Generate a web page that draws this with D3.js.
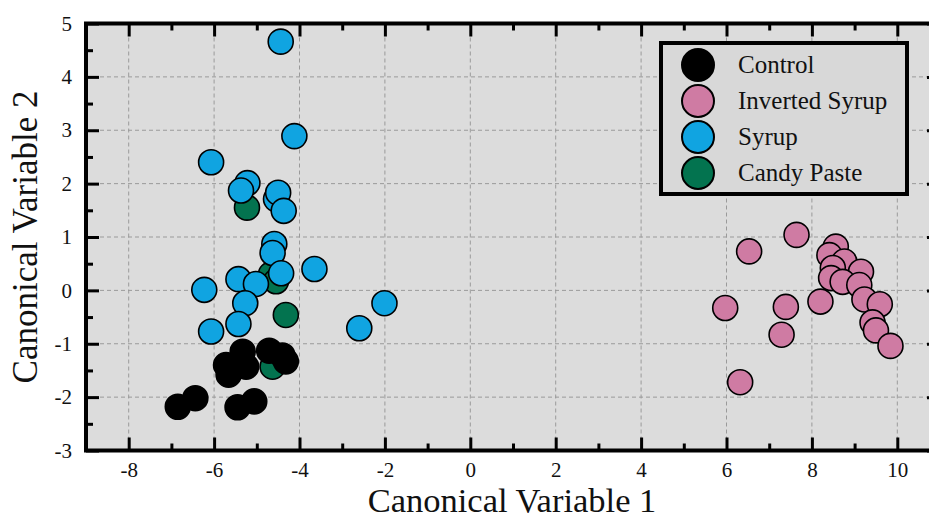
<!DOCTYPE html>
<html>
<head>
<meta charset="utf-8">
<script src="https://cdn.jsdelivr.net/npm/d3@7"></script>
<style>
    body { margin: 0; background: #fff; }
    svg text { font-family: "Liberation Serif", "Times New Roman", serif; fill: #111; }
</style>
</head>
<body>
<div id="chart"></div>
<script>
// groups, in legend order
const groups = ['Control', 'Inverted Syrup', 'Syrup', 'Candy Paste'];
const group_colors = ['#000000', '#cf7ba3', '#10a4e1', '#03734f'];

// canonical scores
const control_x = [-5.33, -5.72, -5.25, -5.66, -4.71, -4.40, -4.32, -6.85, -6.44, -5.45, -5.06];
const control_y = [-1.15, -1.40, -1.43, -1.58, -1.13, -1.22, -1.33, -2.18, -2.02, -2.19, -2.08];

const inverted_x = [7.64, 6.53, 8.56, 8.41, 8.76, 8.49, 8.45, 9.15, 8.72, 9.11, 9.23, 9.59, 9.42, 9.50, 9.84, 8.20, 5.97, 7.39, 7.29, 6.32];
const inverted_y = [1.04, 0.73, 0.82, 0.66, 0.54, 0.42, 0.23, 0.35, 0.16, 0.10, -0.17, -0.26, -0.60, -0.75, -1.04, -0.21, -0.33, -0.31, -0.83, -1.72];

const syrup_x = [-4.44, -4.12, -6.07, -5.22, -5.37, -4.55, -4.50, -4.37, -4.59, -4.63, -3.65, -4.43, -5.43, -5.02, -6.23, -5.27, -5.43, -6.07, -2.60, -2.01];
const syrup_y = [4.66, 2.89, 2.40, 2.01, 1.87, 1.71, 1.83, 1.49, 0.87, 0.70, 0.40, 0.32, 0.21, 0.12, 0.01, -0.24, -0.63, -0.77, -0.71, -0.24];

const candy_x = [-5.23, -4.67, -4.55, -4.32, -4.63];
const candy_y = [1.55, 0.30, 0.17, -0.46, -1.43];

// axis ticks
const x_major = [-8, -6, -4, -2, 0, 2, 4, 6, 8, 10];
const x_minor = [-7, -5, -3, -1, 1, 3, 5, 7, 9];
const y_major = [-3, -2, -1, 0, 1, 2, 3, 4, 5];
const y_minor = [-2.5, -1.5, -0.5, 0.5, 1.5, 2.5, 3.5, 4.5];

class ScatterChart {
    constructor(config) {
        this.config = {
            parent: config.parent,
            width: config.width || 929,
            height: config.height || 520,
            margin: config.margin || { top: 23.5, right: -11, bottom: 69.5, left: 86 }
        };
        this.init();
    }

    init() {
        let self = this;
        const m = self.config.margin;

        self.svg = d3.select(self.config.parent).append('svg')
            .attr('width', self.config.width)
            .attr('height', self.config.height);

        self.inner_width = self.config.width - m.left - m.right;
        self.inner_height = self.config.height - m.top - m.bottom;

        self.chart = self.svg.append('g')
            .attr('transform', `translate(${m.left}, ${m.top})`);

        self.xscale = d3.scaleLinear().domain([-9, 11]).range([0, self.inner_width]);
        self.yscale = d3.scaleLinear().domain([-3, 5]).range([self.inner_height, 0]);
    }

    render() {
        let self = this;
        const w = self.inner_width, h = self.inner_height;

        // plot background
        self.chart.append('rect')
            .attr('width', w).attr('height', h)
            .attr('fill', '#dcdcdc');

        // dashed grid
        const grid = self.chart.append('g')
            .attr('stroke', '#9a9a9a')
            .attr('stroke-width', 1)
            .attr('stroke-dasharray', '4,3');
        grid.selectAll('.vx').data(x_major).join('line')
            .attr('x1', d => self.xscale(d)).attr('x2', d => self.xscale(d))
            .attr('y1', 0).attr('y2', h);
        grid.selectAll('.hy').data(y_major.slice(1, -1)).join('line')
            .attr('y1', d => self.yscale(d)).attr('y2', d => self.yscale(d))
            .attr('x1', 0).attr('x2', w);

        // ticks pointing inward on all four sides
        const add_axis = (axis, tx, ty, labels) => {
            const g = self.chart.append('g')
                .attr('transform', `translate(${tx}, ${ty})`)
                .call(axis);
            g.select('.domain').remove();
            g.selectAll('.tick line').attr('stroke', '#000').attr('stroke-width', 3);
            if (!labels) g.selectAll('.tick text').remove();
            else g.selectAll('.tick text')
                .style('font-family', '"Liberation Serif", "Times New Roman", serif')
                .style('font-size', '21px')
                .style('fill', '#111');
            return g;
        };

        const fmt = d => String(d);
        add_axis(d3.axisBottom(self.xscale).tickValues(x_major).tickSize(-13).tickPadding(11.5).tickFormat(fmt), 0, h, true);
        add_axis(d3.axisBottom(self.xscale).tickValues(x_minor).tickSize(-7), 0, h, false);
        add_axis(d3.axisTop(self.xscale).tickValues(x_major).tickSize(-13), 0, 0, false);
        add_axis(d3.axisTop(self.xscale).tickValues(x_minor).tickSize(-7), 0, 0, false);

        add_axis(d3.axisLeft(self.yscale).tickValues(y_major).tickSize(-13).tickPadding(14).tickFormat(fmt), 0, 0, true);
        add_axis(d3.axisLeft(self.yscale).tickValues(y_minor).tickSize(-7), 0, 0, false);
        add_axis(d3.axisRight(self.yscale).tickValues(y_major).tickSize(-13), w, 0, false);
        add_axis(d3.axisRight(self.yscale).tickValues(y_minor).tickSize(-7), w, 0, false);

        // frame
        self.chart.append('rect')
            .attr('width', w).attr('height', h)
            .attr('fill', 'none')
            .attr('stroke', '#000')
            .attr('stroke-width', 4);

        // points, drawn candy -> syrup -> control -> inverted
        const series = [
            { xs: candy_x, ys: candy_y, color: group_colors[3] },
            { xs: syrup_x, ys: syrup_y, color: group_colors[2] },
            { xs: control_x, ys: control_y, color: group_colors[0] },
            { xs: inverted_x, ys: inverted_y, color: group_colors[1] }
        ];
        series.forEach(s => {
            self.chart.append('g').selectAll('circle')
                .data(s.xs.map((x, i) => [x, s.ys[i]]))
                .join('circle')
                .attr('cx', d => self.xscale(d[0]))
                .attr('cy', d => self.yscale(d[1]))
                .attr('r', 12.5)
                .attr('fill', s.color)
                .attr('stroke', '#000')
                .attr('stroke-width', 1.6);
        });

        // legend
        const legend = self.svg.append('g').attr('transform', 'translate(661, 43)');
        legend.append('rect')
            .attr('width', 246).attr('height', 151)
            .attr('fill', '#d8d8d8')
            .attr('stroke', '#000')
            .attr('stroke-width', 4);
        const rows = legend.selectAll('.row').data(groups).join('g')
            .attr('transform', (d, i) => `translate(0, ${22 + i * 36})`);
        rows.append('circle')
            .attr('cx', 37).attr('r', 16)
            .attr('fill', (d, i) => group_colors[i])
            .attr('stroke', '#000')
            .attr('stroke-width', 2);
        rows.append('text')
            .attr('x', 77).attr('dy', '0.33em')
            .attr('font-size', 25)
            .text(d => d);

        // axis titles
        self.svg.append('text')
            .attr('x', 512).attr('y', 512)
            .attr('text-anchor', 'middle')
            .attr('font-size', 34.5)
            .text('Canonical Variable 1');
        self.svg.append('text')
            .attr('transform', 'translate(37, 237) rotate(-90)')
            .attr('text-anchor', 'middle')
            .attr('font-size', 35)
            .text('Canonical Variable 2');
    }
}

const chart = new ScatterChart({ parent: '#chart' });
chart.render();
</script>
</body>
</html>
